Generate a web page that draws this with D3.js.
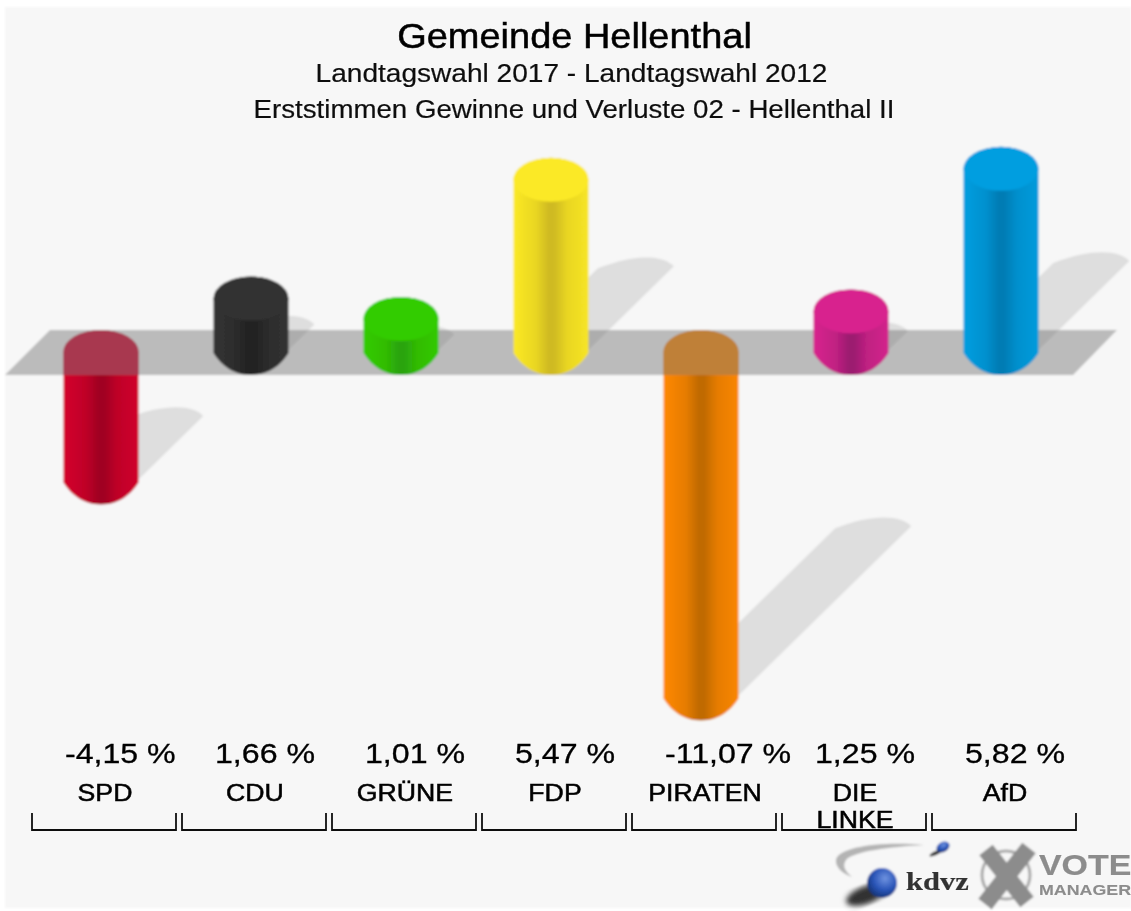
<!DOCTYPE html>
<html>
<head>
<meta charset="utf-8">
<title>Gemeinde Hellenthal</title>
<script src="https://cdn.jsdelivr.net/npm/d3@7"></script>
<style>
html, body { margin: 0; padding: 0; background: #fff; }
svg { display: block; }
text { font-family: "Liberation Sans", Arial, sans-serif; }
</style>
</head>
<body>
<div id="chart"></div>
<script>
var parties = ["SPD", "CDU", "GRÜNE", "FDP", "PIRATEN", "DIE LINKE", "AfD"];
var partyLines = [["SPD"], ["CDU"], ["GRÜNE"], ["FDP"], ["PIRATEN"], ["DIE", "LINKE"], ["AfD"]];
var values = [-4.15, 1.66, 1.01, 5.47, -11.07, 1.25, 5.82];
var valueLabels = ["-4,15 %", "1,66 %", "1,01 %", "5,47 %", "-11,07 %", "1,25 %", "5,82 %"];
var mainColors = ["#d4002c", "#333333", "#33cc00", "#fbe925", "#ff8800", "#d8228e", "#009ee0"];
var darkColors = ["#a00022", "#222222", "#2ba40a", "#cfba22", "#c06a00", "#9c1c70", "#007cb4"];

var w = 1131, h = 911;
var rx = 37.5, ry = 22;
var bandTop = 330, bandBottom = 375;

var svg = d3.select("#chart").append("svg")
    .attr("width", w)
    .attr("height", h);

var defs = svg.append("defs");

// the reference is a scaled up bitmap, so everything is a little soft
defs.append("filter").attr("id", "soft")
    .attr("filterUnits", "userSpaceOnUse")
    .attr("x", 0).attr("y", 0)
    .attr("width", w).attr("height", h)
    .append("feGaussianBlur").attr("stdDeviation", 0.8);

defs.append("filter").attr("id", "softText")
    .attr("filterUnits", "userSpaceOnUse")
    .attr("x", 0).attr("y", 0)
    .attr("width", w).attr("height", h)
    .append("feGaussianBlur").attr("stdDeviation", 0.45);

defs.append("filter").attr("id", "softer")
    .append("feGaussianBlur").attr("stdDeviation", 2.5);

parties.forEach(function(p, i) {
    var mix = d3.interpolateRgb(mainColors[i], darkColors[i]);
    var g = defs.append("linearGradient").attr("id", "bar" + i);
    g.append("stop").attr("offset", "0%").attr("stop-color", mainColors[i]);
    g.append("stop").attr("offset", "30%").attr("stop-color", mix(0.4));
    g.append("stop").attr("offset", "47%").attr("stop-color", darkColors[i]);
    g.append("stop").attr("offset", "54%").attr("stop-color", darkColors[i]);
    g.append("stop").attr("offset", "72%").attr("stop-color", mix(0.4));
    g.append("stop").attr("offset", "100%").attr("stop-color", mix(0.08));
});

var ballGrad = defs.append("radialGradient").attr("id", "ball")
    .attr("cx", "60%").attr("cy", "35%").attr("r", "70%");
ballGrad.append("stop").attr("offset", "0%").attr("stop-color", "#6f93e0");
ballGrad.append("stop").attr("offset", "55%").attr("stop-color", "#2a55b8");
ballGrad.append("stop").attr("offset", "100%").attr("stop-color", "#12306e");

var root = svg.append("g").attr("filter", "url(#soft)");

root.append("rect")
    .attr("x", 5).attr("y", 7)
    .attr("width", w - 5).attr("height", 901)
    .attr("fill", "#f7f7f7");

var x = d3.scalePoint().domain(parties).range([101, 1001]);
var y = d3.scaleLinear().domain([0, 1]).range([bandBottom, bandBottom - 31.2]);

var rows = parties.map(function(p, i) {
    return { party: p, i: i, v: values[i], cx: x(p) };
});

// value > 0 grows up from the tip on the base line, value < 0 hangs down from the band
function topOf(d) { return d.v > 0 ? y(d.v) - 46.6 : bandTop; }
function tipOf(d) { return d.v > 0 ? bandBottom : y(d.v); }

function barPath(d) {
    var x0 = d.cx - rx, x1 = d.cx + rx;
    var t = topOf(d) + ry, b = tipOf(d) - ry, tip = tipOf(d);
    return "M" + x0 + "," + t +
        "A" + rx + "," + ry + " 0 0 1 " + x1 + "," + t +
        "L" + x1 + "," + b +
        "C" + (x1 - 5) + "," + (b + 8) + " " + (d.cx + 21) + "," + tip + " " + d.cx + "," + tip +
        "C" + (d.cx - 21) + "," + tip + " " + (x0 + 5) + "," + (b + 8) + " " + x0 + "," + b + "Z";
}

function shadowPath(d) {
    var len = Math.abs(y(d.v) - y(0)) * 0.5;
    var xr = d.cx + rx;
    var yb = d.v > 0 ? bandBottom - 25 : tipOf(d) - 25;
    var tipX = xr + len, tipY = yb - len * 0.98;
    var leftX = tipX - 76, leftY = tipY + 2;
    return "M" + xr + "," + yb +
        "L" + tipX + "," + tipY +
        "C" + (tipX - 10) + "," + (tipY - 11) + " " + (tipX - 38) + "," + (tipY - 13) + " " + leftX + "," + leftY +
        "L" + (leftX - len) + "," + (leftY + len * 0.98) + "Z";
}

// shadows sit on the floor, under the band
root.append("g").selectAll("path")
    .data(rows)
    .join("path")
    .attr("d", shadowPath)
    .attr("fill", "#dedede");

function drawBars(sel) {
    sel.append("path")
        .attr("d", barPath)
        .attr("fill", function(d) { return "url(#bar" + d.i + ")"; });
}

var negRows = rows.filter(function(d) { return d.v < 0; });
var posRows = rows.filter(function(d) { return d.v > 0; });

// negative bars go behind the band so their top shows through
var negBars = root.append("g").selectAll("g")
    .data(negRows)
    .join("g");
drawBars(negBars);
negBars.append("path")
    .attr("d", function(d) {
        var x0 = d.cx - rx, x1 = d.cx + rx, t = bandTop + ry;
        return "M" + x0 + "," + bandBottom + "L" + x0 + "," + t +
            "A" + rx + "," + ry + " 0 0 1 " + x1 + "," + t +
            "L" + x1 + "," + bandBottom + "Z";
    })
    .attr("fill", function(d) { return mainColors[d.i]; });

root.append("path")
    .attr("d", d3.line()([[5, bandBottom], [50, bandTop], [1117, bandTop], [1073, bandBottom]]) + "Z")
    .attr("fill", "#777777")
    .attr("fill-opacity", 0.47);

var posBars = root.append("g").selectAll("g")
    .data(posRows)
    .join("g");
drawBars(posBars);
posBars.append("ellipse")
    .attr("cx", function(d) { return d.cx; })
    .attr("cy", function(d) { return topOf(d) + ry; })
    .attr("rx", rx)
    .attr("ry", ry)
    .attr("fill", function(d) { return mainColors[d.i]; });

var textLayer = svg.append("g").attr("filter", "url(#softText)");

// the original picture is stretched sideways, text included
function label(px, py, txt, size, stretch, anchor, fill, weight) {
    return textLayer.append("text")
        .attr("transform", "translate(" + px + "," + py + ") scale(" + stretch + ",1)")
        .attr("text-anchor", anchor)
        .attr("font-size", size)
        .attr("fill", fill)
        .attr("stroke", fill)
        .attr("stroke-width", weight)
        .text(txt);
}

label(574.5, 48, "Gemeinde Hellenthal", 36, 1.055, "middle", "#000", 0.5);
label(571.5, 82, "Landtagswahl 2017 - Landtagswahl 2012", 26, 1.08, "middle", "#111", 0.2);
label(574, 118, "Erststimmen Gewinne und Verluste 02 - Hellenthal II", 26, 1.064, "middle", "#111", 0.2);

rows.forEach(function(d) {
    label(d.cx - 36, 763, valueLabels[d.i], 27, 1.19, "start", "#000", 0.3);
    partyLines[d.i].forEach(function(line, k) {
        label(d.cx + 4, 801 + k * 27, line, 23, 1.16, "middle", "#000", 0.5);
    });
    textLayer.append("path")
        .attr("d", d3.line()([[d.cx - 69, 813], [d.cx - 69, 830], [d.cx + 75, 830], [d.cx + 75, 813]]))
        .attr("fill", "none")
        .attr("stroke", "#111")
        .attr("stroke-width", 1.8);
});

// kdvz and VoteManager logos
var logo = root.append("g");
logo.append("path")
    .attr("d", "M924,845 C885,841 838,846 836,860 C835,868 844,874 852,877 C845,871 842,866 846,860 C854,851 890,847 924,845Z")
    .attr("fill", "#b4b4b4");
logo.append("ellipse")
    .attr("cx", 866).attr("cy", 895).attr("rx", 21).attr("ry", 9)
    .attr("transform", "rotate(-20 866 895)")
    .attr("fill", "#333")
    .attr("filter", "url(#softer)");
logo.append("circle")
    .attr("cx", 882).attr("cy", 883).attr("r", 15)
    .attr("fill", "url(#ball)");
logo.append("ellipse")
    .attr("cx", 936).attr("cy", 853).attr("rx", 7).attr("ry", 2)
    .attr("transform", "rotate(-25 936 853)")
    .attr("fill", "#333");
logo.append("ellipse")
    .attr("cx", 943).attr("cy", 847).attr("rx", 7).attr("ry", 5)
    .attr("transform", "rotate(-30 943 847)")
    .attr("fill", "url(#ball)");
label(906, 890, "kdvz", 25, 1.22, "start", "#333", 0.2)
    .style("font-family", "'Liberation Serif', serif")
    .attr("font-weight", "bold");
logo.append("circle")
    .attr("cx", 1006).attr("cy", 875).attr("r", 24)
    .attr("fill", "none")
    .attr("stroke", "#aaa")
    .attr("stroke-width", 3);
logo.append("path")
    .attr("d", "M986,850L1027,902M1029,848L985,904")
    .attr("stroke", "#8c8c8c")
    .attr("stroke-width", 17)
    .attr("fill", "none");
label(1039, 875, "VOTE", 30, 1.13, "start", "#8c8c8c", 0.2).attr("font-weight", "bold");
label(1039, 895, "MANAGER", 15, 1.19, "start", "#8c8c8c", 0.1).attr("font-weight", "bold");
</script>
</body>
</html>
